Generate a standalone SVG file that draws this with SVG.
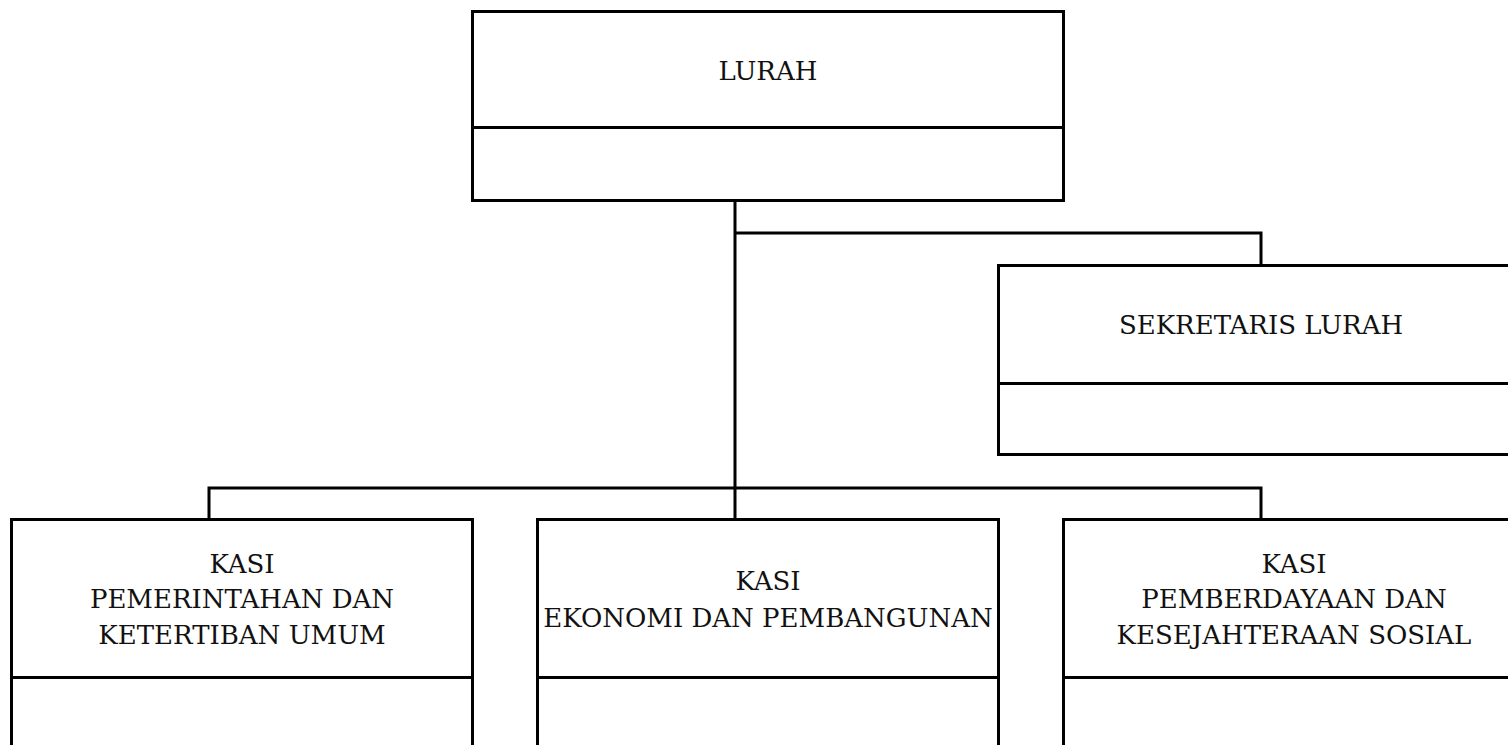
<svg xmlns="http://www.w3.org/2000/svg" width="1508" height="745" viewBox="0 0 1508 745">
<style>
.box{fill:#fff;stroke:#000;stroke-width:3}
.div{stroke:#000;stroke-width:3}
.con{fill:none;stroke:#000;stroke-width:3}
.t{font-family:"DejaVu Serif","Liberation Serif",serif;font-size:26px;fill:#111;text-anchor:middle}
</style>
<rect width="1508" height="745" fill="#fff"/>
<g id="connectors">
<path class="con" d="M735 200V519"/>
<path class="con" d="M735 233H1261V265"/>
<path class="con" d="M209 519V488H1261V519"/>
</g>
<g id="lurah">
<rect class="box" x="472.5" y="11.5" width="591" height="189"/>
<line class="div" x1="472" y1="127.5" x2="1063" y2="127.5"/>
<text class="t" x="768" y="80">LURAH</text>
</g>
<g id="sekretaris">
<rect class="box" x="998.5" y="265.5" width="530" height="189"/>
<line class="div" x1="998" y1="383.5" x2="1510" y2="383.5"/>
<text class="t" x="1261" y="334">SEKRETARIS LURAH</text>
</g>
<g id="kasi-pemerintahan">
<rect class="box" x="11.5" y="519.5" width="461" height="240"/>
<line class="div" x1="11" y1="677.5" x2="472" y2="677.5"/>
<text class="t" x="242" y="573">KASI</text>
<text class="t" x="242" y="608">PEMERINTAHAN DAN</text>
<text class="t" x="242" y="644">KETERTIBAN UMUM</text>
</g>
<g id="kasi-ekonomi">
<rect class="box" x="537.5" y="519.5" width="461" height="240"/>
<line class="div" x1="537" y1="677.5" x2="998" y2="677.5"/>
<text class="t" x="768" y="590">KASI</text>
<text class="t" x="768" y="627">EKONOMI DAN PEMBANGUNAN</text>
</g>
<g id="kasi-pemberdayaan">
<rect class="box" x="1063.5" y="519.5" width="470" height="240"/>
<line class="div" x1="1063" y1="677.5" x2="1510" y2="677.5"/>
<text class="t" x="1294" y="573">KASI</text>
<text class="t" x="1294" y="608">PEMBERDAYAAN DAN</text>
<text class="t" x="1294" y="644">KESEJAHTERAAN SOSIAL</text>
</g>
</svg>
